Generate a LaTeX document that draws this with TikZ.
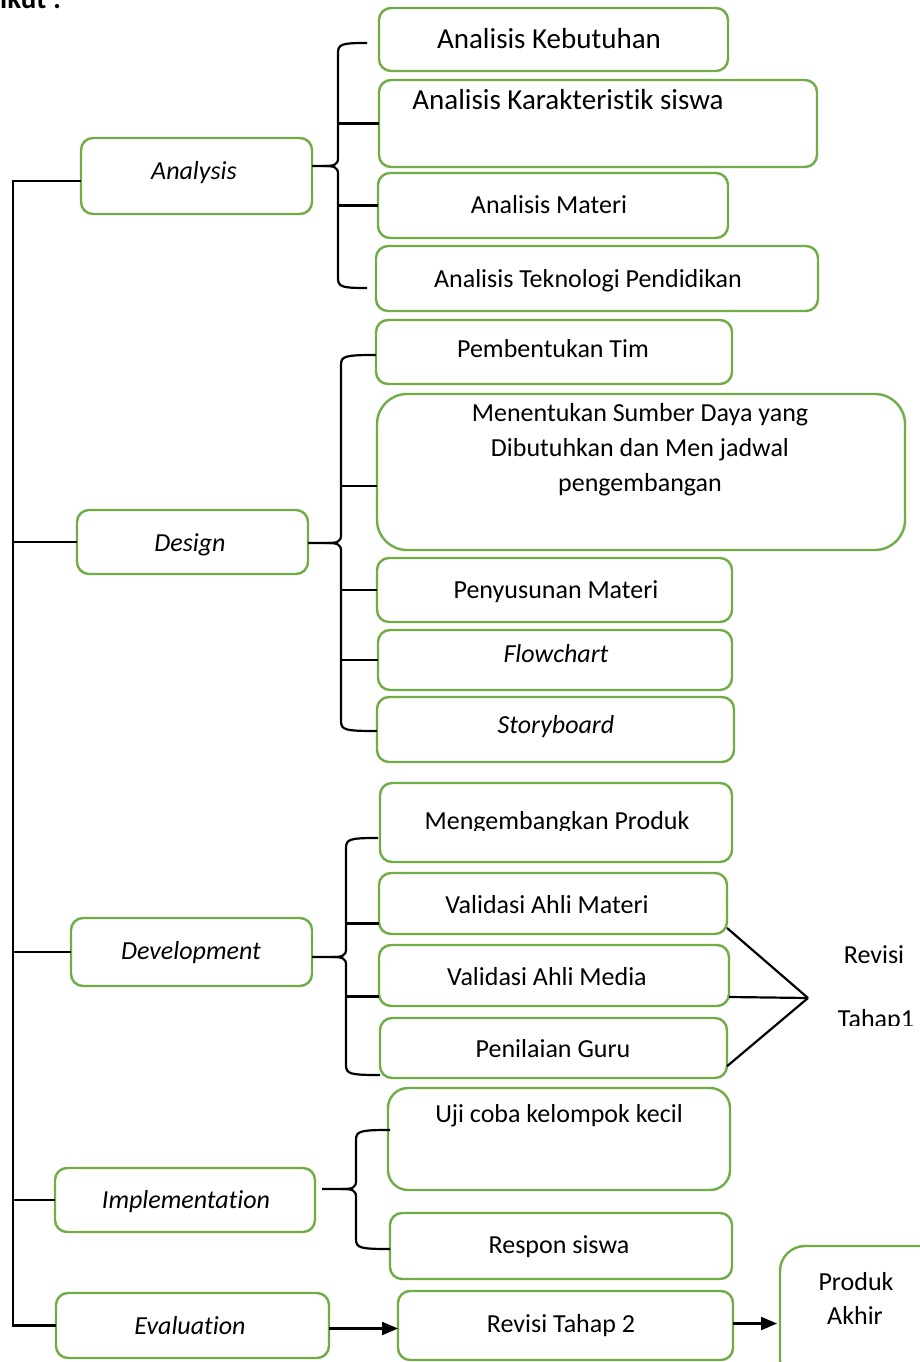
\documentclass[tikz,border=0pt]{standalone}
\usepackage{fontspec}
\setmainfont{Carlito}[Ligatures=NoCommon]
\usetikzlibrary{arrows.meta,calc}
\definecolor{gr}{HTML}{70AD47}
\tikzset{
  gbox/.style={draw=gr, line width=2.4pt, rounded corners=12pt, inner sep=0pt, outer sep=0pt},
  conn/.style={draw=black, line width=2.2pt},
  lbl/.style={font=\fontsize{26}{31}\selectfont, inner sep=0pt, anchor=base},
  lblL/.style={font=\fontsize{29}{35}\selectfont, inner sep=0pt, anchor=base},
  lblI/.style={font=\fontsize{26}{31}\selectfont\itshape, inner sep=0pt, anchor=base},
  arr/.style={conn, -{Triangle[length=16pt,width=13pt]}},
}
% \gb[opts]{left}{top}{right}{bottom}{name}
\newcommand\gb[6][]{\node[gbox,#1,minimum width={(#4-#2)*1pt},minimum height={(#5-#3)*1pt}] (#6) at ({(#2+#4)/2},{(#3+#5)/2}) {};}
% \cbrace{tip x}{spine x}{top end x}{top y}{mid y}{bottom y}{bottom end x}
\newcommand\cbrace[7]{%
  \draw[conn] (#3,#4) .. controls ({#2+4},#4) and (#2,{#4+1}) .. (#2,{#4+10}) -- (#2,{#5-8})
     .. controls (#2,{#5-1}) and ({#2-4},#5) .. ({#2-14},#5) -- (#1,#5);
  \draw[conn] ({#2-14},#5) .. controls ({#2-4},#5) and (#2,{#5+1}) .. (#2,{#5+8}) -- (#2,{#6-10})
     .. controls (#2,{#6-1}) and ({#2+4},#6) .. (#7,#6);
}
\begin{document}
\begin{tikzpicture}[x=1pt,y=-1pt]
\useasboundingbox (0,0) rectangle (920,1362);
\fill[white] (0,0) rectangle (920,1362);

\node[font=\fontsize{29}{35}\selectfont\bfseries, inner sep=0pt, anchor=base west] (top) at (0,9) {ikut :};

% left column
\gb{81}{138}{312}{214}{analysis}
\gb{77}{510}{308}{574}{design}
\gb{71}{918}{312}{986}{dev}
\gb{55}{1168}{315}{1232}{impl}
\gb{56}{1293}{329}{1358}{eval}
\node[lblI] (tanalysis) at (194,179) {Analysis};
\node[lblI] (tdesign) at (190,551) {Design};
\node[lblI] (tdev) at (191,959) {Development};
\node[lblI] (timpl) at (186,1208) {Implementation};
\node[lblI] (teval) at (190,1334) {Evaluation};

% analysis group
\gb{379}{8}{728}{71}{kebut}
\gb{379}{80}{817}{167}{karak}
\gb{378}{173}{728}{238}{materi}
\gb{376}{246}{818}{311}{tekno}
\node[lblL] (tkebut) at (549,49) {Analisis Kebutuhan};
\node[lblL] (tkarak) at (568,110) {Analisis Karakteristik siswa};
\node[lbl] (tmateri) at (549,213) {Analisis Materi};
\node[lbl] (ttekno) at (588,287) {Analisis Teknologi Pendidikan};

% design group
\gb{376}{320}{732}{384}{tim}
\gb[rounded corners=30pt]{377}{394}{905}{550}{sumber}
\gb{377}{558}{732}{622}{susun}
\gb{378}{630}{732}{690}{flow}
\gb{377}{697}{734}{762}{story}
\node[lbl] (ttim) at (553,357) {Pembentukan Tim};
\node[lbl] (ts1) at (640,421) {Menentukan Sumber Daya yang};
\node[lbl] (ts2) at (640,456) {Dibutuhkan dan Men jadwal};
\node[lbl] (ts3) at (640,491) {pengembangan};
\node[lbl] (tsusun) at (556,598) {Penyusunan Materi};
\node[lblI] (tflow) at (556,662) {Flowchart};
\node[lblI] (tstory) at (556,733) {Storyboard};

% development group
\gb{380}{783}{732}{862}{produk}
\gb{379}{873}{727}{934}{vam}
\gb{379}{945}{729}{1006}{vmed}
\gb{380}{1018}{727}{1078}{guru}
\begin{scope}
  \clip (380,783) rectangle (732,830);
  \node[lbl] (tproduk) at (557,829) {Mengembangkan Produk};
\end{scope}
\node[lbl] (tvam) at (547,913) {Validasi Ahli Materi};
\node[lbl] (tvmed) at (547,985) {Validasi Ahli Media};
\node[lbl] (tguru) at (553,1057) {Penilaian Guru};

% implementation group
\gb[rounded corners=20pt]{388}{1088}{730}{1190}{uji}
\gb{390}{1213}{732}{1279}{respon}
\node[lbl] (tuji) at (559,1122) {Uji coba kelompok kecil};
\node[lbl] (trespon) at (559,1253) {Respon siswa};

% evaluation
\gb{398}{1291}{733}{1360}{rev2}
\gb[rounded corners=25pt]{780}{1246}{945}{1385}{akhir}
\node[lbl] (trev2) at (561,1332) {Revisi Tahap 2};
\node[lbl] (tak1) at (856,1290) {Produk};
\node[lbl] (tak2) at (855,1324) {Akhir};

% revisi tahap 1
\coordinate (rv) at (808,998);
\node[lbl] (trevisi) at (874,963) {Revisi};
\begin{scope}
  \clip (820,990) rectangle (920,1025);
  \node[lbl] (ttahap) at (876,1027) {Tahap1};
\end{scope}
\draw[conn] (vam.-8) -- (rv);
\draw[conn] (vmed.-7) -- (rv);
\draw[conn] (guru.-6) -- (rv);

% main spine
\coordinate (sp) at (13,0);
\draw[conn] ($(analysis.west)+(0,5)$) -- ($(analysis.west -| sp)+(0,5)$) -- (eval.west -| sp) -- (eval.west);
\draw[conn] (design.west -| sp) -- (design.west);
\draw[conn] (dev.west -| sp) -- (dev.west);
\draw[conn] (impl.west -| sp) -- (impl.west);

% braces
\cbrace{312}{338}{367}{43}{166}{288}{367}
\coordinate (sA) at (338,0);
\draw[conn] (sA |- karak.west) -- (karak.west);
\draw[conn] (sA |- materi.west) -- (materi.west);

\cbrace{308}{341}{376}{355}{543}{731}{377}
\coordinate (sD) at (341,0);
\draw[conn] ($(sD |- sumber.west)+(0,14)$) -- ($(sumber.west)+(0,14)$);
\draw[conn] (sD |- susun.west) -- (susun.west);
\draw[conn] (sD |- flow.west) -- (flow.west);

\cbrace{312}{346}{378}{838}{957}{1075}{380}
\coordinate (sV) at (346,0);
\draw[conn] ($(sV |- vam.west)+(0,20)$) -- ($(vam.west)+(0,20)$);
\draw[conn] ($(sV |- vmed.west)+(0,21)$) -- ($(vmed.west)+(0,21)$);

\cbrace{322}{356}{390}{1130}{1189}{1249}{390}

% arrows
\draw[arr] ($(eval.east)+(0,3)$) -- ($(rev2.west)+(0,3)$);
\draw[arr] ($(rev2.east)+(0,-2)$) -- ($(akhir.west |- rev2.east)+(-3,-2)$);
\end{tikzpicture}
\end{document}
